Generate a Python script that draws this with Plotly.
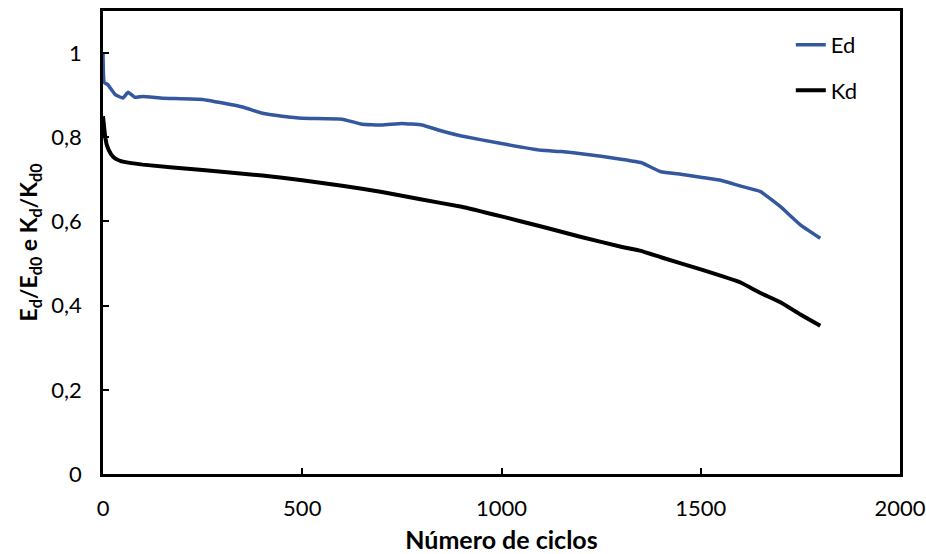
import plotly.graph_objects as go

# Normalised dynamic modulus (Ed/Ed0) versus number of cycles
ed_cycles = [0, 3, 12, 30, 50, 63, 80, 100, 150, 250, 350, 400, 450, 500, 600,
             650, 700, 750, 800, 850, 900, 1000, 1100, 1150, 1200, 1250, 1300,
             1350, 1400, 1450, 1500, 1550, 1600, 1650, 1700, 1750, 1800]
ed_ratio = [1.0, 0.93, 0.925, 0.902, 0.893, 0.907, 0.895, 0.897, 0.893, 0.890,
            0.872, 0.857, 0.850, 0.845, 0.843, 0.831, 0.829, 0.833, 0.829, 0.815,
            0.803, 0.785, 0.769, 0.766, 0.761, 0.755, 0.748, 0.740, 0.718, 0.712,
            0.705, 0.698, 0.684, 0.671, 0.635, 0.592, 0.560]

# Normalised stiffness (Kd/Kd0) versus number of cycles
kd_cycles = [0, 5, 10, 20, 30, 50, 100, 250, 400, 500, 600, 700, 800, 900,
             1000, 1100, 1200, 1300, 1350, 1400, 1500, 1600, 1650, 1700, 1750, 1800]
kd_ratio = [0.85, 0.805, 0.78, 0.76, 0.75, 0.742, 0.735, 0.722, 0.709, 0.698,
            0.685, 0.670, 0.652, 0.635, 0.612, 0.588, 0.563, 0.540, 0.530, 0.515,
            0.486, 0.455, 0.430, 0.408, 0.379, 0.352]

x_ticks = [0, 500, 1000, 1500, 2000]
y_ticks = [0, 0.2, 0.4, 0.6, 0.8, 1.0]

FONT = "Lato"

fig = go.Figure()
fig.add_trace(go.Scatter(x=ed_cycles, y=ed_ratio, mode="lines", name="Ed",
                         legendgroup="ed",
                         line=dict(color="#3458A0", width=3.5, shape="spline", smoothing=0.3)))
fig.add_trace(go.Scatter(x=kd_cycles, y=kd_ratio, mode="lines", name="Kd",
                         legendgroup="kd",
                         line=dict(color="#000000", width=4, shape="spline", smoothing=0.3)))

axis_common = dict(showline=True, linecolor="black", linewidth=2.5, mirror=True,
                   ticks="inside", ticklen=6, tickwidth=2, tickcolor="black",
                   showgrid=False, zeroline=False,
                   tickfont=dict(family=FONT, size=22, color="black"))

fig.update_xaxes(range=[0, 2000], tickvals=x_ticks, ticklabelstandoff=13,
                 title=dict(text="<b>Número de ciclos</b>", standoff=18,
                            font=dict(family=FONT, size=25, color="black")),
                 **axis_common)
fig.update_yaxes(range=[0, 1.1], tickvals=y_ticks, ticklabelstandoff=14,
                 title=dict(text="<b>E<sub>d</sub>/E<sub>d0</sub> e K<sub>d</sub>/K<sub>d0</sub></b>",
                            standoff=8,
                            font=dict(family=FONT, size=23, color="black")),
                 **axis_common)

fig.update_layout(
    width=926, height=554,
    margin=dict(l=103, r=26, t=11, b=80, autoexpand=False),
    paper_bgcolor="white", plot_bgcolor="white",
    separators=", ",
    font=dict(family=FONT, color="black"),
    legend=dict(x=0.863, y=0.972, xref="paper", yref="paper",
                xanchor="left", yanchor="top",
                tracegroupgap=14, font=dict(family=FONT, size=22, color="black"),
                bgcolor="rgba(0,0,0,0)"),
    showlegend=True,
)

fig.write_html("out.html")
